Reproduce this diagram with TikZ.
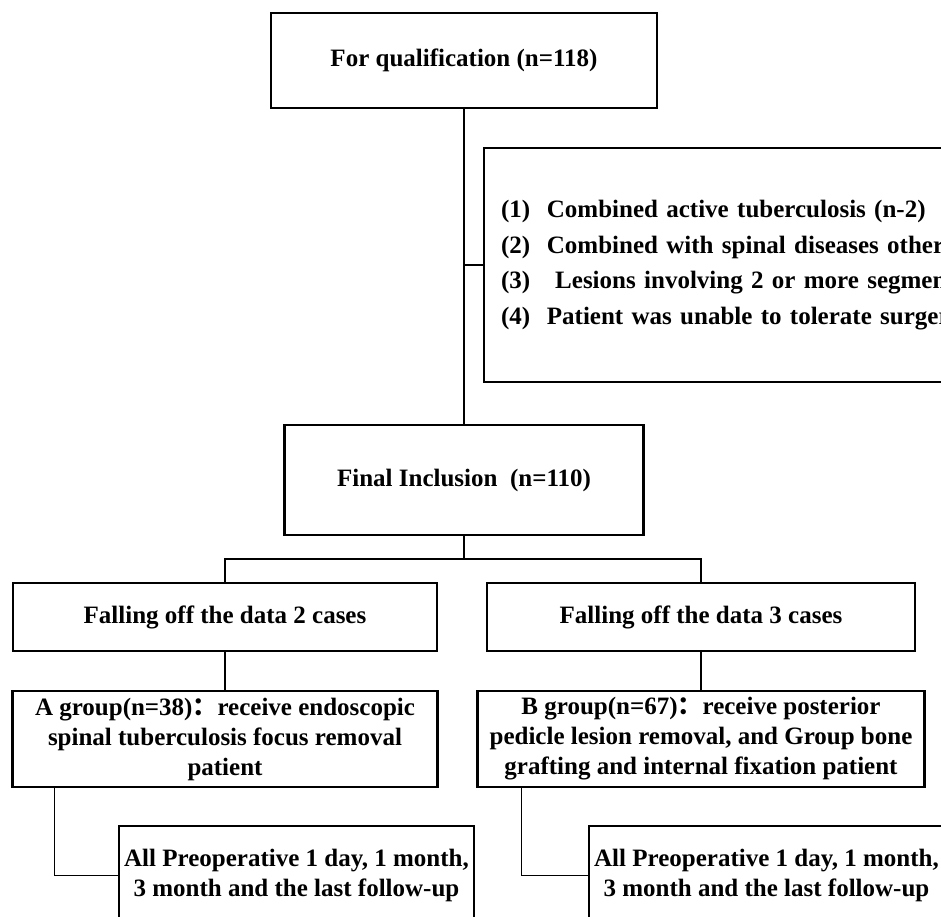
\documentclass[tikz,border=0pt]{standalone}
\usepackage{fontspec}
\setmainfont{Liberation Serif}
\newfontfamily\cjk{Noto Sans CJK SC}
\begin{document}
\begin{tikzpicture}[x=1pt,y=-1pt,
    box/.style={draw,line width=2.2pt,align=center,inner sep=0pt,
      font=\fontsize{25}{30}\selectfont\bfseries},
    link/.style={line width=1.3pt}]
      \useasboundingbox (0,0) rectangle (941,916);
      \draw
        (464,60.5) node[box,minimum width=386pt,minimum height=95pt] (qual){For qualification (n=118)}
        (483,265) node[box,anchor=west,minimum height=234pt,text width=540pt,align=left,
          inner xsep=17pt,font=\fontsize{25}{35.5}\selectfont\bfseries] (excl)
          {(1)\ \ Combined active tuberculosis (n-2)\\
           (2)\ \ Combined with spinal diseases other\\
           (3)\ \ \ Lesions involving 2 or more segmen\\
           (4)\ \ Patient was unable to tolerate surger}
        (464,480) node[box,minimum width=359pt,minimum height=110pt] (final){Final Inclusion\ \ (n=110)}
        (225,617) node[box,minimum width=424pt,minimum height=68pt] (fallA){Falling off the data 2 cases}
        (701,617) node[box,minimum width=428pt,minimum height=68pt] (fallB){Falling off the data 3 cases}
        (225,739) node[box,minimum width=425pt,minimum height=96pt] (grpA)
          {A group(n=38){\cjk ：}receive endoscopic\\spinal tuberculosis focus removal\\patient}
        (701,739) node[box,minimum width=447pt,minimum height=96pt] (grpB)
          {B group(n=67){\cjk ：}receive posterior\\pedicle lesion removal, and Group bone\\grafting and internal fixation patient}
        (296.5,875.5) node[box,minimum width=355pt,minimum height=99pt] (fuA)
          {All Preoperative 1 day, 1 month,\\3 month and the last follow-up}
        (766.5,875.5) node[box,minimum width=355pt,minimum height=99pt] (fuB)
          {All Preoperative 1 day, 1 month,\\3 month and the last follow-up};
      \coordinate (split) at (464,559);
      \begin{scope}[link]
        \draw (qual) to (final);
        \draw (qual.south |- excl.west) to (excl.west);
        \draw (final) to (split);
        \draw (fallA.north) |- (split) -| (fallB.north);
        \draw (fallA) to (grpA);
        \draw (fallB) to (grpB);
        \draw ([xshift=43pt]grpA.south west) |- (fuA.west);
        \draw ([xshift=45pt]grpB.south west) |- (fuB.west);
      \end{scope}
    \end{tikzpicture}
\end{document}
